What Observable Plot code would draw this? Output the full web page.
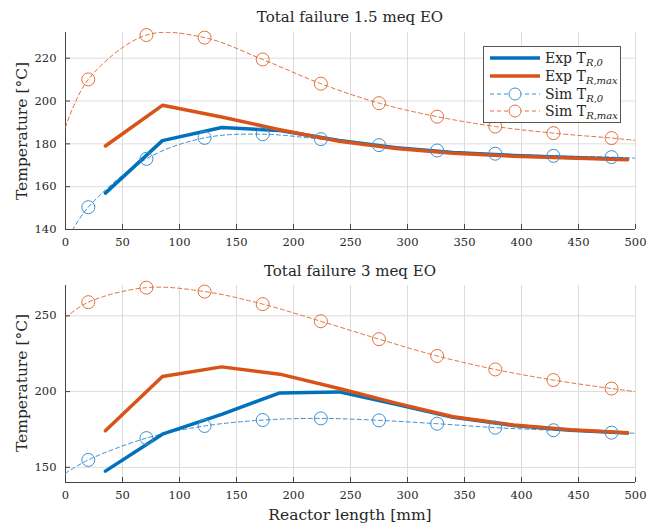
<!DOCTYPE html>
<html>
<head>
<meta charset="utf-8">
<script src="https://cdn.jsdelivr.net/npm/d3@7"></script>
<script src="https://cdn.jsdelivr.net/npm/@observablehq/plot@0.6"></script>
<style>
  html, body { margin: 0; padding: 0; background: #fff; }
  #wrap { position: relative; width: 648px; height: 526px; font-family: "DejaVu Serif", "Times New Roman", "Liberation Serif", serif; color: #262626; }
  #wrap svg, #wrap svg text { font-family: "DejaVu Serif", "Times New Roman", "Liberation Serif", serif !important; }
  #wrap .panel svg { font-size: 11.5px !important; background: transparent !important; overflow: visible; }
  .panel { position: absolute; left: 0; }
  .title { position: absolute; left: 65px; width: 570px; text-align: center; font-size: 15px; z-index: 2; white-space: nowrap; }
  .ylab { position: absolute; left: 22px; width: 0; height: 0; z-index: 2; }
  .ylab span { position: absolute; left: 0; top: 0; transform: translate(-50%, -50%) rotate(-90deg); white-space: nowrap; font-size: 15.5px; }
  .xlab { position: absolute; left: 65px; width: 570px; text-align: center; font-size: 15.5px; white-space: nowrap; z-index: 2; }
  #legend { position: absolute; left: 483px; top: 46px; width: 138px; height: 77px; box-sizing: border-box; border: 1px solid #555; background: #fff; font-size: 14px; z-index: 3; }
  .row { position: absolute; left: 0; height: 18px; display: flex; align-items: center; white-space: nowrap; }
  .row svg { display: block; margin-left: 6px; margin-right: 5px; flex: none; }
  .row i { font-size: 10px; }
  sub { vertical-align: -3px; line-height: 0; }
</style>
</head>
<body>
<div id="wrap">
  <div id="top" class="panel" style="top:0"></div>
  <div id="bot" class="panel" style="top:262px"></div>
  <div class="title" style="top:8px">Total failure 1.5 meq EO</div>
  <div class="title" style="top:262px">Total failure 3 meq EO</div>
  <div class="ylab" style="top:131px"><span>Temperature [°C]</span></div>
  <div class="ylab" style="top:383px"><span>Temperature [°C]</span></div>
  <div class="xlab" style="top:506px">Reactor length [mm]</div>
  <div id="legend"></div>
</div>
<script>
// ---------- data ----------
const xTicks = [0, 50, 100, 150, 200, 250, 300, 350, 400, 450, 500];
const yTicksTop = [140, 160, 180, 200, 220];
const yTicksBot = [150, 200, 250];

// experimental thermocouple positions [mm]
const expX = [35, 85, 137, 188, 240, 290, 340, 393, 443, 493];
// top: 1.5 meq EO
const expR0Top   = [157, 181.5, 187.6, 186.2, 181.6, 178.2, 176.0, 174.6, 173.6, 172.8];
const expRmaxTop = [179, 198.0, 192.5, 186.6, 181.2, 177.8, 175.6, 174.2, 173.4, 172.6];
// bottom: 3 meq EO
const expR0Bot   = [147.5, 171.9, 185.0, 199.1, 199.8, 191.6, 183.0, 177.6, 174.5, 172.6];
const expRmaxBot = [174.1, 210.0, 216.3, 211.5, 202.0, 192.4, 183.4, 177.9, 174.8, 172.8];

// simulated profiles (marker positions)
const simX = [20, 71, 122, 173, 224, 275, 326, 377, 428, 479];
const simR0Top   = [150.4, 173.0, 182.8, 184.5, 182.2, 179.4, 176.9, 175.4, 174.4, 173.8];
const simRmaxTop = [210.1, 230.8, 229.6, 219.4, 208.1, 199.0, 192.7, 188.1, 185.0, 182.7];
const simR0Bot   = [154.9, 169.3, 177.3, 181.2, 182.3, 181.0, 178.8, 176.2, 174.5, 172.9];
const simRmaxBot = [259.0, 268.6, 266.0, 257.7, 246.4, 234.6, 223.5, 214.6, 207.6, 202.0];
// simulated profile values at the reactor ends (x = 0 and x = 500)
const simEndX = [0, 500];
const simR0TopEnds   = [134, 173.3];
const simRmaxTopEnds = [187.8, 181.6];
const simR0BotEnds   = [146.1, 172.5];
const simRmaxBotEnds = [248.8, 200.0];

const blue = "#0072BD", orange = "#D95319";
const blueSim = "#3b8fd4", orangeSim = "#e5703c";

function series(xs, ys) { return xs.map((x, i) => ({x, y: ys[i]})); }
function simLine(ys, ends) {
  return [{x: simEndX[0], y: ends[0]}, ...series(simX, ys), {x: simEndX[1], y: ends[1]}];
}

function panel({height, marginTop, marginBottom, yDomain, yTicks, r0, rmax, sR0, sRmax, sR0e, sRmaxe}) {
  const W = 648, ml = 65, mr = 13;
  const plotW = W - ml - mr, plotH = height - marginTop - marginBottom;
  return Plot.plot({
    width: W, height, marginLeft: ml, marginRight: mr, marginTop, marginBottom,
    style: {fontSize: "11.5px", color: "#262626", background: "transparent"},
    x: {domain: [0, 500], ticks: xTicks, label: null},
    y: {domain: yDomain, ticks: yTicks, label: null},
    marks: [
      Plot.gridX(xTicks, {stroke: "#dcdcdc", strokeOpacity: 1}),
      Plot.gridY(yTicks, {stroke: "#dcdcdc", strokeOpacity: 1}),
      Plot.axisX(xTicks, {tickSize: 0, tickPadding: 8, label: null}),
      Plot.axisY(yTicks, {tickSize: 0, tickPadding: 9, label: null}),
      Plot.tickX(xTicks, {x: d => d, stroke: "#444", insetTop: plotH - 5}),
      Plot.tickY(yTicks, {y: d => d, stroke: "#444", insetRight: plotW - 5}),
      Plot.ruleY([yDomain[0]], {stroke: "#444"}),
      Plot.ruleX([0], {stroke: "#444"}),
      Plot.line(simLine(sRmax, sRmaxe), {x: "x", y: "y", stroke: orangeSim, strokeWidth: 1, strokeDasharray: "4,3", curve: "catmull-rom", clip: true}),
      Plot.line(simLine(sR0, sR0e), {x: "x", y: "y", stroke: blueSim, strokeWidth: 1, strokeDasharray: "4,3", curve: "catmull-rom", clip: true}),
      Plot.line(series(expX, r0), {x: "x", y: "y", stroke: blue, strokeWidth: 3.5}),
      Plot.line(series(expX, rmax), {x: "x", y: "y", stroke: orange, strokeWidth: 3.5}),
      Plot.dot(series(simX, sRmax), {x: "x", y: "y", r: 6.5, stroke: orangeSim, strokeWidth: 1, fill: "none"}),
      Plot.dot(series(simX, sR0), {x: "x", y: "y", r: 6.5, stroke: blueSim, strokeWidth: 1, fill: "none"})
    ]
  });
}

document.getElementById("top").appendChild(panel({
  height: 262, marginTop: 32, marginBottom: 33, yDomain: [140, 232], yTicks: yTicksTop,
  r0: expR0Top, rmax: expRmaxTop, sR0: simR0Top, sRmax: simRmaxTop, sR0e: simR0TopEnds, sRmaxe: simRmaxTopEnds
}));
document.getElementById("bot").appendChild(panel({
  height: 264, marginTop: 23, marginBottom: 44, yDomain: [140, 270], yTicks: yTicksBot,
  r0: expR0Bot, rmax: expRmaxBot, sR0: simR0Bot, sRmax: simRmaxBot, sR0e: simR0BotEnds, sRmaxe: simRmaxBotEnds
}));

// legend
const legendItems = [
  {name: "Exp", sub: "R,0", color: blue, solid: true},
  {name: "Exp", sub: "R,max", color: orange, solid: true},
  {name: "Sim", sub: "R,0", color: blueSim, solid: false},
  {name: "Sim", sub: "R,max", color: orangeSim, solid: false}
];
const leg = document.getElementById("legend");
legendItems.forEach((it, i) => {
  const row = document.createElement("div");
  row.className = "row";
  row.style.top = (2 + i * 17.8) + "px";
  const sample = it.solid
    ? `<line x1="0" y1="9" x2="50" y2="9" stroke="${it.color}" stroke-width="3.5"/>`
    : `<line x1="0" y1="9" x2="50" y2="9" stroke="${it.color}" stroke-width="1" stroke-dasharray="4,3"/><circle cx="25" cy="9" r="6" fill="white" stroke="${it.color}" stroke-width="1"/>`;
  row.innerHTML = `<svg width="50" height="18">${sample}</svg><span>${it.name} T<sub><i>${it.sub}</i></sub></span>`;
  leg.appendChild(row);
});
</script>
</body>
</html>
